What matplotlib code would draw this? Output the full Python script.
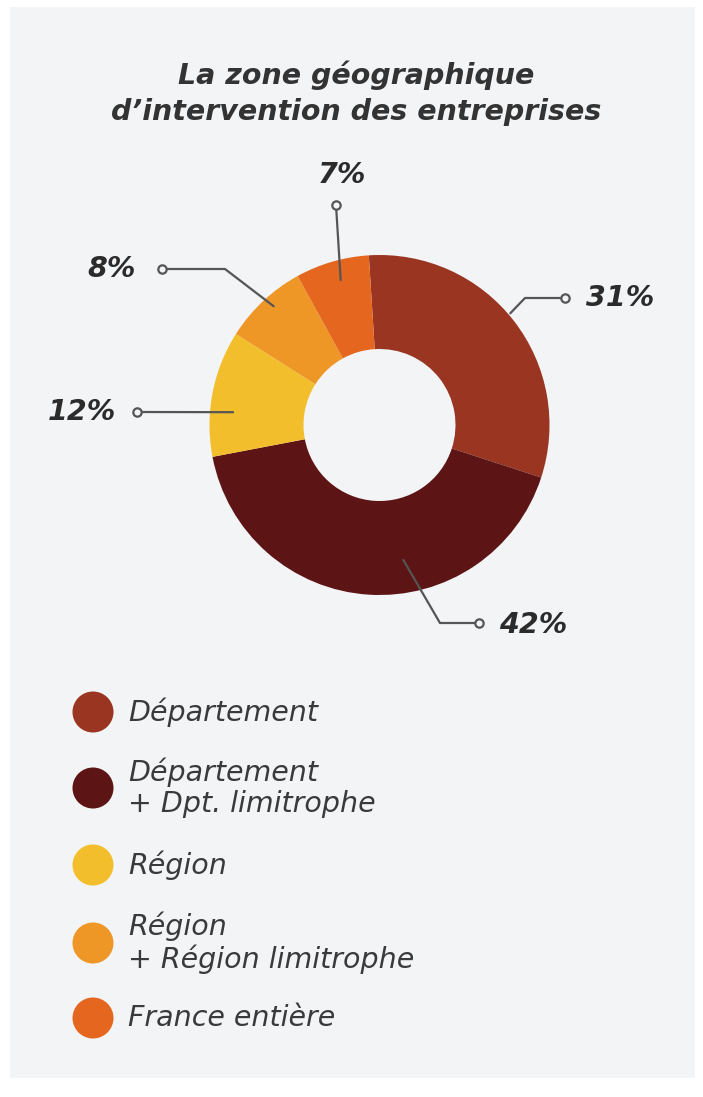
import numpy as np
import matplotlib.pyplot as plt
from matplotlib.patches import Rectangle, Circle

# data
categories = ['Département', 'Département\n+ Dpt. limitrophe', 'Région',
              'Région\n+ Région limitrophe', 'France entière']
shares = [31, 42, 12, 8, 7]
pct_labels = ['31%', '42%', '12%', '8%', '7%']
colors = ['#993521', '#5c1414', '#f3be2c', '#ee9626', '#e5671f']

W, H = 703, 1097
fig = plt.figure(figsize=(W / 100, H / 100), dpi=100)
fig.patch.set_facecolor('white')
ax = fig.add_axes([0, 0, 1, 1])
ax.set_xlim(0, W)
ax.set_ylim(0, H)
ax.set_aspect('equal')
ax.axis('off')


def Y(y):
    # pixel row (from top) -> data y
    return H - y


ax.add_patch(Rectangle((10, Y(1078)), 685, 1071, facecolor='#f3f4f6',
                       edgecolor='none', zorder=0))

# title
ax.text(356, Y(75), 'La zone géographique', ha='center', va='center',
        fontsize=20.5, fontweight='bold', style='italic', color='#333333')
ax.text(356, Y(112), 'd’intervention des entreprises', ha='center', va='center',
        fontsize=20.5, fontweight='bold', style='italic', color='#333333')

# donut
cx, cy, R = 379.5, 425, 170
wedges, _ = ax.pie(shares, colors=colors, startangle=93.6, counterclock=False,
                   center=(cx, Y(cy)), radius=R,
                   wedgeprops=dict(width=R - 76, edgecolor='none'))
ax.set_xlim(0, W)
ax.set_ylim(0, H)

# leader lines: (angle offset from wedge middle, anchor radius, path points, text pos)
lead = [
    (2.7, 172, [(525, 298), (565, 298)], (620, 298)),
    (13.6, 137, [(440, 623), (479, 623)], (533, 625)),
    (5.8, 147, [(137, 412)], (82, 412)),
    (-1.5, 159, [(225, 269), (162, 269)], (112, 269)),
    (-1.2, 150, [(336, 205)], (342, 175)),
]
for w, lbl, (dang, rr, pts, tpos) in zip(wedges, pct_labels, lead):
    mid = np.deg2rad((w.theta1 + w.theta2) / 2 + dang)
    ax0 = cx + rr * np.cos(mid)
    ay0 = Y(cy) + rr * np.sin(mid)
    xs = [ax0] + [p[0] for p in pts]
    ys = [ay0] + [Y(p[1]) for p in pts]
    ax.plot(xs, ys, color='#555555', lw=1.6, zorder=5, solid_capstyle='round')
    ax.plot(xs[-1], ys[-1], 'o', ms=6, mfc='#f3f4f6', mec='#555555', mew=1.6,
            zorder=6)
    ax.text(tpos[0], Y(tpos[1]), lbl, ha='center', va='center', fontsize=20.5,
            fontweight='bold', style='italic', color='#2b2b2b')

# legend
leg_y = [712, 788, 865, 943, 1018]
for c, lab, yy in zip(colors, categories, leg_y):
    ax.add_patch(Circle((93, Y(yy)), 20.5, facecolor=c, edgecolor='none', zorder=3))
    ax.text(128, Y(yy), lab, ha='left', va='center', fontsize=20.5,
            style='italic', color='#3a3a3a', linespacing=1.15)

fig.savefig('out.png', dpi=100, facecolor='white')
